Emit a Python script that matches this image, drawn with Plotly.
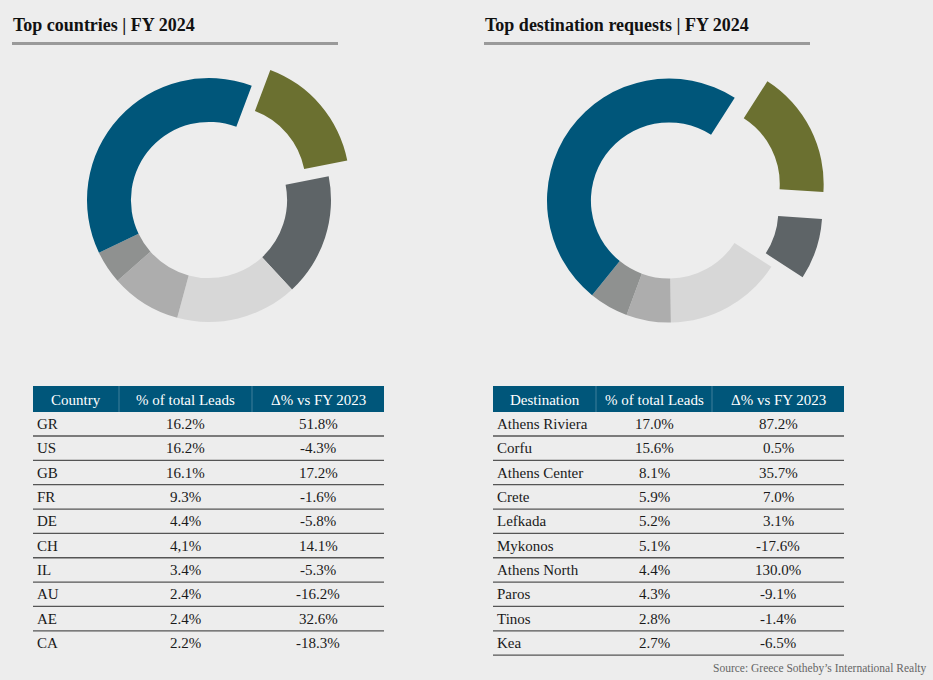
import plotly.graph_objects as go

# ---------------- data ----------------
donut1_labels = ["GR", "US", "GB", "FR", "DE", "Others"]
donut1_values = [16.2, 16.2, 16.1, 9.3, 4.4, 37.8]
donut1_pull = [0.2, 0, 0, 0, 0, 0]

donut2_labels = ["Athens Riviera", "Athens Center", "Corfu", "Crete", "Lefkada", "Others"]
donut2_values = [17.0, 8.1, 15.6, 5.9, 5.2, 48.2]
donut2_pull = [0.3, 0.27, 0, 0, 0, 0]

slice_colors = ["#6B7030", "#5E6467", "#D7D7D7", "#ADADAD", "#8F9190", "#00567A"]

table1_header = ["Country", "% of total Leads", "Δ% vs FY 2023"]
countries = ["GR", "US", "GB", "FR", "DE", "CH", "IL", "AU", "AE", "CA"]
country_share = ["16.2%", "16.2%", "16.1%", "9.3%", "4.4%", "4,1%", "3.4%", "2.4%", "2.4%", "2.2%"]
country_delta = ["51.8%", "-4.3%", "17.2%", "-1.6%", "-5.8%", "14.1%", "-5.3%", "-16.2%", "32.6%", "-18.3%"]

table2_header = ["Destination", "% of total Leads", "Δ% vs FY 2023"]
destinations = ["Athens Riviera", "Corfu", "Athens Center", "Crete", "Lefkada",
                "Mykonos", "Athens North", "Paros", "Tinos", "Kea"]
dest_share = ["17.0%", "15.6%", "8.1%", "5.9%", "5.2%", "5.1%", "4.4%", "4.3%", "2.8%", "2.7%"]
dest_delta = ["87.2%", "0.5%", "35.7%", "7.0%", "3.1%", "-17.6%", "130.0%", "-9.1%", "-1.4%", "-6.5%"]

titles = ["Top countries | FY 2024", "Top destination requests | FY 2024"]
source_text = "Source: Greece Sotheby’s International Realty"

# ---------------- layout constants ----------------
W, H = 933, 680
BG = "#EDEDED"
BLUE = "#00567A"
SERIF = "Liberation Serif, Times New Roman, serif"
R_OUT = 122
HOLE = 0.64


def pie_domain(cx, cy, r, maxpull):
    half = r * (1 + maxpull)
    return dict(x=[(cx - half) / W, (cx + half) / W],
                y=[1 - (cy + half) / H, 1 - (cy - half) / H])


fig = go.Figure()

fig.add_trace(go.Pie(
    labels=donut1_labels, values=donut1_values, pull=donut1_pull,
    hole=HOLE, sort=False, direction="clockwise", rotation=20.5,
    marker=dict(colors=slice_colors, line=dict(width=0)),
    textinfo="none", showlegend=False,
    domain=pie_domain(209, 200, R_OUT, max(donut1_pull)),
))
fig.add_trace(go.Pie(
    labels=donut2_labels, values=donut2_values, pull=donut2_pull,
    hole=HOLE, sort=False, direction="clockwise", rotation=32.6,
    marker=dict(colors=slice_colors, line=dict(width=0)),
    textinfo="none", showlegend=False,
    domain=pie_domain(669, 200.5, R_OUT, max(donut2_pull)),
))

shapes = []
annotations = []

# titles + underline
for title, x0, x1 in zip(titles, [12, 484], [338, 810]):
    annotations.append(dict(x=x0 - 1, y=25, xref="x", yref="y", text="<b>%s</b>" % title,
                            showarrow=False, xanchor="left", yanchor="middle",
                            font=dict(family=SERIF, size=18, color="#111111")))
    shapes.append(dict(type="line", xref="x", yref="y", x0=x0, x1=x1, y0=43.5, y1=43.5,
                       line=dict(color="#9A9A9A", width=3)))


def add_table(x_edges, header, col0, col1, col2, bottom_line):
    top, head_bot = 386, 412
    row_h = 24.35
    first_sep = 436
    x_left, x_right = x_edges[0], x_edges[-1]
    # header band
    shapes.append(dict(type="rect", xref="x", yref="y", x0=x_left, x1=x_right, y0=top, y1=head_bot,
                       fillcolor=BLUE, line=dict(width=0), layer="below"))
    for xe in x_edges[1:-1]:
        shapes.append(dict(type="line", xref="x", yref="y", x0=xe, x1=xe, y0=top, y1=head_bot,
                           line=dict(color="#3F7E9A", width=1)))
    centers = [(x_edges[i] + x_edges[i + 1]) / 2 for i in range(3)]
    for c, txt in zip(centers, header):
        annotations.append(dict(x=c, y=(top + head_bot) / 2 + 0.5, xref="x", yref="y", text=txt,
                                showarrow=False, xanchor="center", yanchor="middle",
                                font=dict(family=SERIF, size=15, color="white")))
    n = len(col0)
    for i in range(n):
        y_top = head_bot if i == 0 else first_sep + row_h * (i - 1)
        y_bot = first_sep + row_h * i
        yc = (y_top + y_bot) / 2
        annotations.append(dict(x=x_left + 2, y=yc, xref="x", yref="y", text=col0[i],
                                showarrow=False, xanchor="left", yanchor="middle",
                                font=dict(family=SERIF, size=15, color="#1a1a1a")))
        annotations.append(dict(x=centers[1], y=yc, xref="x", yref="y", text=col1[i],
                                showarrow=False, xanchor="center", yanchor="middle",
                                font=dict(family=SERIF, size=15, color="#1a1a1a")))
        annotations.append(dict(x=centers[2], y=yc, xref="x", yref="y", text=col2[i],
                                showarrow=False, xanchor="center", yanchor="middle",
                                font=dict(family=SERIF, size=15, color="#1a1a1a")))
        if i < n - 1 or bottom_line:
            shapes.append(dict(type="line", xref="x", yref="y", x0=x_left, x1=x_right,
                               y0=y_bot, y1=y_bot, line=dict(color="#555555", width=1.3)))


add_table([33, 119, 252, 384], table1_header, countries, country_share, country_delta, False)
add_table([493, 596, 712, 844], table2_header, destinations, dest_share, dest_delta, True)

annotations.append(dict(x=929, y=668, xref="x", yref="y", text=source_text, showarrow=False,
                        xanchor="right", yanchor="middle",
                        font=dict(family=SERIF, size=11.5, color="#666666")))

fig.update_layout(
    width=W, height=H,
    margin=dict(l=0, r=0, t=0, b=0),
    paper_bgcolor=BG, plot_bgcolor=BG,
    xaxis=dict(range=[0, W], visible=False, fixedrange=True),
    yaxis=dict(range=[H, 0], visible=False, fixedrange=True),
    shapes=shapes, annotations=annotations,
    showlegend=False,
)

fig.write_html("out.html", config={"displayModeBar": False},
               post_script="document.body.style.margin='0';document.body.style.background='%s';" % BG)
